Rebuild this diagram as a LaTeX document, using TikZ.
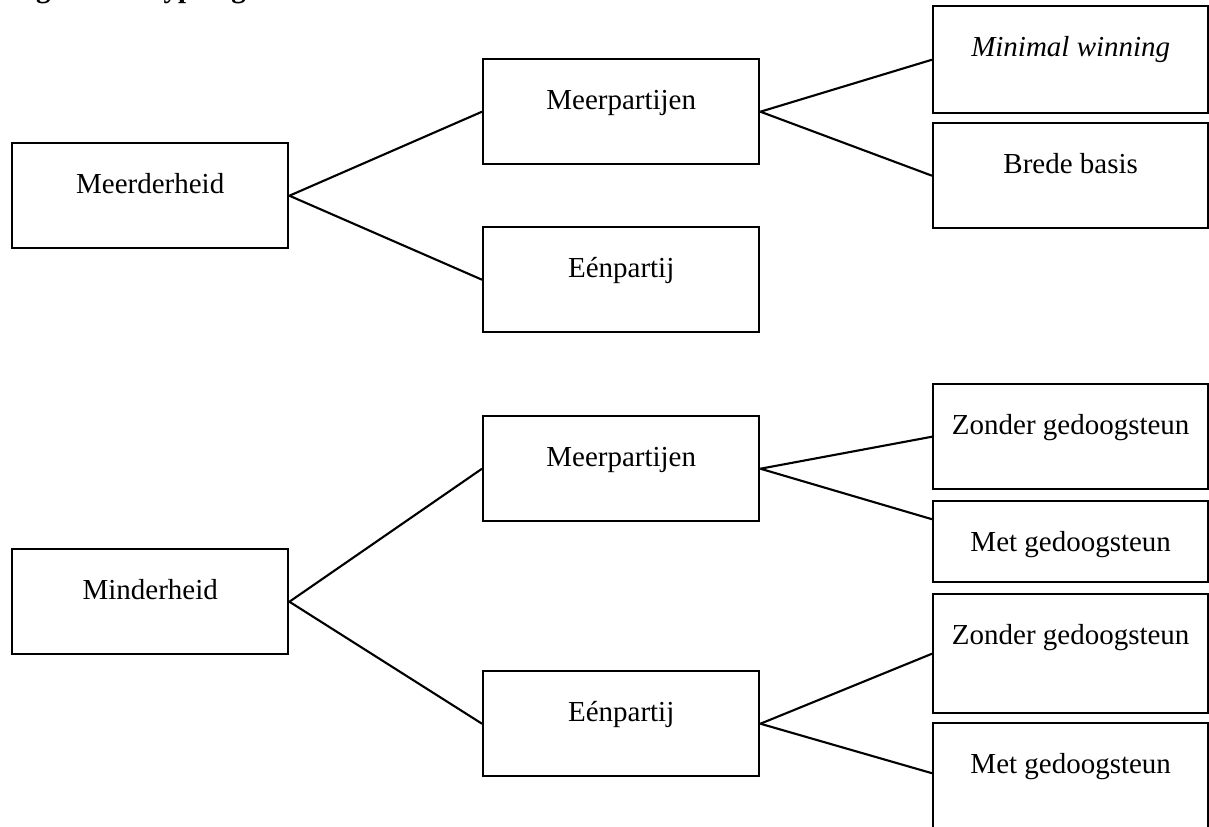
\documentclass[tikz,border=0pt]{standalone}
\usepackage{fontspec}
\setmainfont{Liberation Serif}
\newcommand{\boxfont}{\fontsize{16.5}{18}\selectfont}

\begin{document}
\begin{tikzpicture}[x=0.02cm,y=-0.02cm]
        \useasboundingbox (0,0) rectangle (1209,827);
        \begin{scope}
            \clip (0,0) rectangle (1209,827);
            \node[anchor=base west,inner sep=0pt,font=\boxfont\bfseries] (title) at (10,-2) {Figuur 1.1 Typologie};

            \begin{scope}
                \tikzstyle{every node}=[draw,line width=1.4pt,rectangle,anchor=north west,minimum width=5.52cm,inner sep=0pt,text height=1.0cm,text depth=1.1cm,font=\boxfont]

                % left column
                \node (mrd) at (11,142) {Meerderheid};
                \node (mnd) at (11,548) {Minderheid};

                % middle column
                \node (mp_1) at (482,58) {Meerpartijen};
                \node (ep_1) at (482,226) {Eénpartij};
                \node (mp_2) at (482,415) {Meerpartijen};
                \node (ep_2) at (482,670) {Eénpartij};

                % right column
                \begin{scope}[every node/.append style={minimum width=5.5cm}]
                    \node[text depth=1.14cm] (mw) at (932,5) {\itshape Minimal winning};
                    \node (bb) at (932,122) {Brede basis};
                    \node (zg_1) at (932,383) {Zonder gedoogsteun};
                    \node[text depth=0.62cm] (mg_1) at (932,500) {Met gedoogsteun};
                    \node[text depth=1.38cm] (zg_2) at (932,593) {Zonder gedoogsteun};
                    \node[text depth=1.38cm] (mg_2) at (932,722) {Met gedoogsteun};
                \end{scope}
            \end{scope}

            \begin{scope}[line width=1.2pt]
                \foreach \a / \b in {mrd/mp_1, mrd/ep_1, mp_1/mw, mp_1/bb, mnd/mp_2, mnd/ep_2, mp_2/zg_1, ep_2/zg_2} {
                    \draw (\a.east) -- (\b.west);
                }
                \draw (mp_2.east) -- ([yshift=0.45cm]mg_1.west);
                \draw (ep_2.east) -- ([yshift=0.19cm]mg_2.west);
            \end{scope}
        \end{scope}
    \end{tikzpicture}
\end{document}
